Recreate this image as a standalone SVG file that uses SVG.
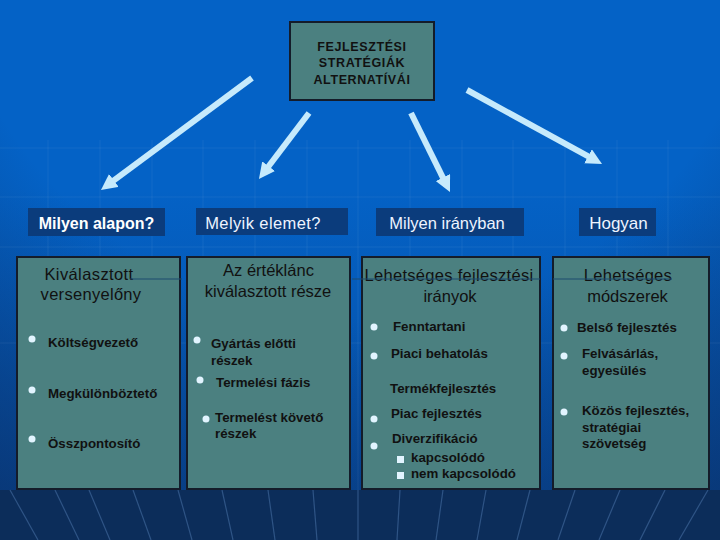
<svg xmlns="http://www.w3.org/2000/svg" width="720" height="540" viewBox="0 0 720 540">
<defs>
<style>
.box{fill:#4b8080;stroke:#141c2a;stroke-width:2}
.hdr{fill:#0b3c7c}
.t{font-family:"Liberation Sans",Arial,sans-serif;fill:#111}
.title{font-size:16.5px;text-anchor:middle}
.top{font-size:12.5px;font-weight:bold;text-anchor:middle;letter-spacing:0.6px}
.b{font-size:13.3px;font-weight:bold}
.h{font-family:"Liberation Sans",Arial,sans-serif;font-size:16.5px;fill:#eef4ff;text-anchor:middle}
.dot{fill:#e2f4ff}
.arrow{stroke:#c6eafc;stroke-width:6;fill:none;marker-end:url(#ah)}
.grid{stroke:#ffffff;stroke-opacity:0.045;stroke-width:1.5}
.floor{stroke:#6f9ed8;stroke-opacity:0.35;stroke-width:1.2}
.strike{stroke:#1c4a6e;stroke-width:1.2}
</style>
<marker id="ah" viewBox="0 0 16 16" refX="5" refY="8" markerWidth="16" markerHeight="16" markerUnits="userSpaceOnUse" orient="auto">
<path d="M0,0 L16,8 L0,16 z" fill="#c6eafc"/>
</marker>
<radialGradient id="vig" cx="360" cy="-100" r="760" gradientUnits="userSpaceOnUse">
<stop offset="0" stop-color="#0a2f66" stop-opacity="0"/>
<stop offset="0.55" stop-color="#0a2f66" stop-opacity="0"/>
<stop offset="1" stop-color="#0a2f66" stop-opacity="0.85"/>
</radialGradient>
<linearGradient id="vert" x1="0" y1="0" x2="0" y2="1">
<stop offset="0" stop-color="#0a3070" stop-opacity="0"/>
<stop offset="0.35" stop-color="#0a3070" stop-opacity="0"/>
<stop offset="0.9" stop-color="#0a3070" stop-opacity="0.4"/>
</linearGradient>
</defs>

<g id="background">
<rect width="720" height="540" fill="#0462c6"/>
<rect width="720" height="540" fill="url(#vert)"/>
<rect width="720" height="540" fill="url(#vig)"/>
<g class="grid">
<line x1="0" y1="148" x2="720" y2="148"/>
<line x1="0" y1="197" x2="720" y2="197"/>
<line x1="0" y1="247" x2="720" y2="247"/>
<line x1="0" y1="343" x2="720" y2="343"/>
<line x1="48" y1="140" x2="48" y2="490"/>
<line x1="100" y1="140" x2="100" y2="490"/>
<line x1="152" y1="140" x2="152" y2="490"/>
<line x1="203" y1="140" x2="203" y2="490"/>
<line x1="255" y1="140" x2="255" y2="490"/>
<line x1="307" y1="140" x2="307" y2="490"/>
<line x1="358" y1="140" x2="358" y2="490"/>
<line x1="410" y1="140" x2="410" y2="490"/>
<line x1="462" y1="140" x2="462" y2="490"/>
<line x1="513" y1="140" x2="513" y2="490"/>
<line x1="565" y1="140" x2="565" y2="490"/>
<line x1="617" y1="140" x2="617" y2="490"/>
<line x1="668" y1="140" x2="668" y2="490"/>
</g>
<rect y="490" width="720" height="50" fill="#0c2d5a"/>
<g class="floor">
<line x1="10" y1="490" x2="38" y2="540"/>
<line x1="55" y1="490" x2="79" y2="540"/>
<line x1="89" y1="490" x2="110" y2="540"/>
<line x1="133" y1="490" x2="151" y2="540"/>
<line x1="178" y1="490" x2="192" y2="540"/>
<line x1="222" y1="490" x2="233" y2="540"/>
<line x1="268" y1="490" x2="275" y2="540"/>
<line x1="313" y1="490" x2="317" y2="540"/>
<line x1="358" y1="490" x2="358" y2="540"/>
<line x1="400" y1="490" x2="397" y2="540"/>
<line x1="443" y1="490" x2="436" y2="540"/>
<line x1="486" y1="490" x2="477" y2="540"/>
<line x1="530" y1="490" x2="517" y2="540"/>
<line x1="575" y1="490" x2="558" y2="540"/>
<line x1="620" y1="490" x2="599" y2="540"/>
<line x1="665" y1="490" x2="640" y2="540"/>
<line x1="708" y1="490" x2="679" y2="540"/>
</g>
</g>

<g id="connectors">
<path class="arrow" d="M252,78 L109.8,183.4"/>
<path class="arrow" d="M309,113 L265.6,170.2"/>
<path class="arrow" d="M411,113 L445.1,182.1"/>
<path class="arrow" d="M467,90 L592.4,158.7"/>
</g>

<g id="root">
<rect class="box" x="290" y="22" width="144" height="78"/>
<text class="t top" x="362" y="51">FEJLESZTÉSI</text>
<text class="t top" x="362" y="67">STRATÉGIÁK</text>
<text class="t top" x="362" y="84">ALTERNATÍVÁI</text>
</g>

<g id="hdr1">
<rect class="hdr" x="28" y="208" width="137" height="28"/>
<text class="h" x="96.5" y="229" style="font-weight:bold;fill:#ffffff;font-size:16px">Milyen alapon?</text>
</g>
<g id="hdr2">
<rect class="hdr" x="196" y="208" width="152" height="27"/>
<text class="h" x="263" y="229" style="letter-spacing:0.4px">Melyik elemet?</text>
</g>
<g id="hdr3">
<rect class="hdr" x="376" y="208" width="148" height="28"/>
<text class="h" x="447" y="229">Milyen irányban</text>
</g>
<g id="hdr4">
<rect class="hdr" x="579" y="208" width="77" height="28"/>
<text class="h" x="618.5" y="229" style="font-size:17px">Hogyan</text>
</g>

<g id="col1">
<rect class="box" x="17" y="257" width="163" height="232"/>
<text class="t title" x="89" y="280" style="letter-spacing:0.4px">Kiválasztott</text>
<text class="t title" x="91" y="300" style="letter-spacing:0.3px">versenyelőny</text>
<line class="strike" x1="130" y1="279" x2="182" y2="279"/>
<circle class="dot" cx="32" cy="339" r="3.5"/>
<text class="t b" x="48" y="347">Költségvezető</text>
<circle class="dot" cx="32" cy="390" r="3.5"/>
<text class="t b" x="48" y="398">Megkülönböztető</text>
<circle class="dot" cx="32" cy="439" r="3.5"/>
<text class="t b" x="48" y="448">Összpontosító</text>
</g>

<g id="col2">
<rect class="box" x="187" y="257" width="163" height="232"/>
<text class="t title" x="268.5" y="276">Az értéklánc</text>
<text class="t title" x="268" y="297">kiválasztott része</text>
<circle class="dot" cx="197" cy="340" r="3.5"/>
<text class="t b" x="211" y="348">Gyártás előtti</text>
<text class="t b" x="211" y="365">részek</text>
<circle class="dot" cx="200" cy="380" r="3.5"/>
<text class="t b" x="216" y="387">Termelési fázis</text>
<circle class="dot" cx="206" cy="419" r="3.5"/>
<text class="t b" x="215" y="422">Termelést követő</text>
<text class="t b" x="215" y="438">részek</text>
</g>

<g id="col3">
<rect class="box" x="362" y="257" width="178" height="232"/>
<text class="t title" x="449" y="281" style="letter-spacing:0.3px">Lehetséges fejlesztési</text>
<text class="t title" x="450" y="302">irányok</text>
<line class="strike" x1="352" y1="279" x2="540" y2="279"/>
<circle class="dot" cx="374" cy="327" r="3.5"/>
<text class="t b" x="393" y="331">Fenntartani</text>
<circle class="dot" cx="374" cy="356" r="3.5"/>
<text class="t b" x="391" y="358">Piaci behatolás</text>
<text class="t b" x="390" y="393">Termékfejlesztés</text>
<circle class="dot" cx="374" cy="419" r="3.5"/>
<text class="t b" x="391" y="418">Piac fejlesztés</text>
<circle class="dot" cx="374" cy="446" r="3.5"/>
<text class="t b" x="392" y="443">Diverzifikáció</text>
<rect class="dot" x="397" y="456" width="7" height="7"/>
<text class="t b" x="411" y="462">kapcsolódó</text>
<rect class="dot" x="397" y="472" width="7" height="7"/>
<text class="t b" x="411" y="478">nem kapcsolódó</text>
</g>

<g id="col4">
<rect class="box" x="553" y="257" width="156" height="232"/>
<text class="t title" x="628" y="281" style="letter-spacing:0.3px">Lehetséges</text>
<text class="t title" x="627.5" y="302">módszerek</text>
<line class="strike" x1="553" y1="279" x2="672" y2="279"/>
<circle class="dot" cx="564" cy="328" r="3.5"/>
<text class="t b" x="577" y="332">Belső fejlesztés</text>
<circle class="dot" cx="564" cy="356" r="3.5"/>
<text class="t b" x="582" y="358">Felvásárlás,</text>
<text class="t b" x="582" y="375">egyesülés</text>
<circle class="dot" cx="564" cy="412" r="3.5"/>
<text class="t b" x="582" y="415">Közös fejlesztés,</text>
<text class="t b" x="582" y="432">stratégiai</text>
<text class="t b" x="582" y="448">szövetség</text>
</g>
</svg>
